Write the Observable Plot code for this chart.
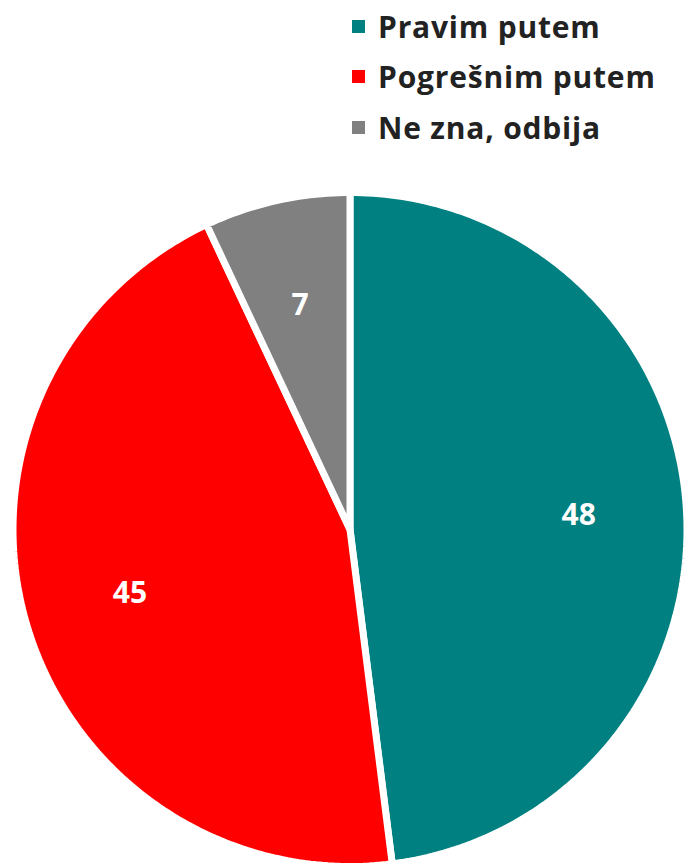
<!DOCTYPE html>
<html>
<head>
<meta charset="utf-8">
<script src="https://cdn.jsdelivr.net/npm/d3@7"></script>
<script src="https://cdn.jsdelivr.net/npm/@observablehq/plot@0.6"></script>
<style>
  html, body { margin: 0; padding: 0; background: #fff; }
  #wrap { position: relative; width: 686px; height: 867px; overflow: hidden; }
  #legend { position: absolute; left: 352px; top: 1px; font-family: "Open Sans", Lato, sans-serif; font-weight: 700; font-size: 30px; letter-spacing: 0.8px; color: #222; }
  .item { display: flex; align-items: center; height: 50.5px; }
  .sw { width: 13px; height: 13px; margin-right: 13px; }
  #chart { position: absolute; left: 0; top: 150px; }
  #chart text { font-weight: 700; }
</style>
</head>
<body>
<div id="wrap">
  <div id="legend"></div>
  <div id="chart"></div>
</div>
<script>
const categories = ["Pravim putem", "Pogrešnim putem", "Ne zna, odbija"];
const values = [48, 45, 7];
const colors = ["#008080", "#FF0000", "#808080"];

// Legend
const legend = document.getElementById("legend");
categories.forEach((c, i) => {
  const it = document.createElement("div");
  it.className = "item";
  const sw = document.createElement("div");
  sw.className = "sw";
  sw.style.background = colors[i];
  const tx = document.createElement("span");
  tx.textContent = c;
  it.appendChild(sw); it.appendChild(tx);
  legend.appendChild(it);
});

// Pie geometry (angles clockwise from 12 o'clock)
const total = d3.sum(values);
let acc = 0;
const slices = values.map((v, i) => {
  const a0 = acc / total * 2 * Math.PI;
  acc += v;
  const a1 = acc / total * 2 * Math.PI;
  return {name: categories[i], value: v, a0, a1};
});

const polyPts = [];
slices.forEach(s => {
  polyPts.push({name: s.name, x: 0, y: 0});
  const n = Math.max(4, Math.ceil((s.a1 - s.a0) / (Math.PI / 180)));
  for (let k = 0; k <= n; k++) {
    const a = s.a0 + (s.a1 - s.a0) * k / n;
    polyPts.push({name: s.name, x: Math.sin(a), y: Math.cos(a)});
  }
});

const labels = slices.map(s => {
  const m = (s.a0 + s.a1) / 2;
  const f = 0.68;
  return {name: s.name, value: s.value, x: f * Math.sin(m), y: f * Math.cos(m)};
});

const W = 686, H = 717, R = 337, cx = 349.5, cy = 379;
const chart = Plot.plot({
  width: W,
  height: H,
  margin: 0,
  x: {domain: [-cx / R, (W - cx) / R], range: [0, W], axis: null},
  y: {domain: [-(H - cy) / R, cy / R], range: [H, 0], axis: null},
  color: {domain: categories, range: colors},
  marks: [
    Plot.line(polyPts, {x: "x", y: "y", z: "name", fill: "name", stroke: "white", strokeWidth: 7, curve: "linear-closed", strokeLinejoin: "miter"}),
    Plot.text(labels, {x: "x", y: "y", text: d => String(d.value), fill: "white", fontSize: 30, fontWeight: "bold", fontFamily: "'Open Sans', Lato, sans-serif"})
  ]
});
document.getElementById("chart").appendChild(chart);
</script>
</body>
</html>
